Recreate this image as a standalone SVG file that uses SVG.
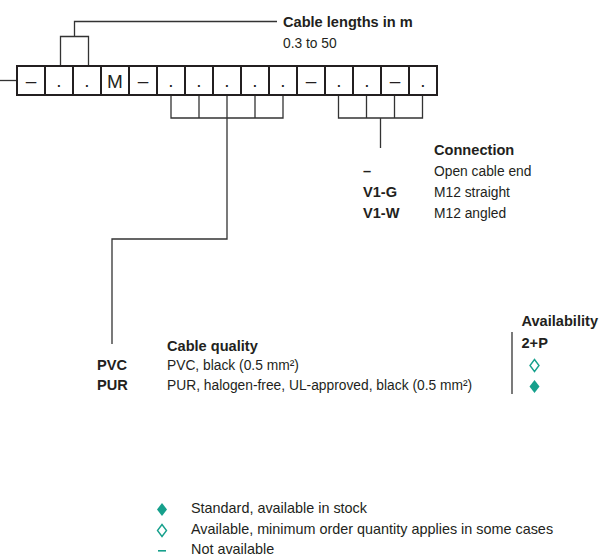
<svg xmlns="http://www.w3.org/2000/svg" width="601" height="560" viewBox="0 0 601 560">
<style>
text{font-family:"Liberation Sans",Arial,sans-serif;fill:#231f20}
.b{font-weight:bold;font-size:14.6px}
.r{font-size:13.8px}
.lg{font-size:14.4px}
.bx{fill:#fff;stroke:#231f20;stroke-width:2}
.bt{font-size:19px;text-anchor:middle}
.c{fill:none;stroke:#333;stroke-width:1.3}
.tf{fill:#16a08c}
.th{fill:none;stroke:#16a08c;stroke-width:1.4}
</style>
<rect width="601" height="560" fill="#fff"/>
<g id="connectors">
<path class="c" d="M0,80.5H17"/>
<path class="c" d="M60.5,66V36.5H88.5V66M74.5,36.5V21.5H277"/>
<path class="c" d="M171,95V118H283V95M199,95V118M227,95V118M255,95V118M227,118V239H112V344"/>
<path class="c" d="M338.5,95V118H422.5V95M366.5,95V118M394.5,95V118M380.5,118V148"/>
<path class="c" d="M512,332V394"/>
</g>
<g id="code">
<rect class="bx" x="17" y="66" width="28" height="29"/>
<rect class="bx" x="45" y="66" width="28" height="29"/>
<rect class="bx" x="73" y="66" width="28" height="29"/>
<rect class="bx" x="101" y="66" width="28" height="29"/>
<rect class="bx" x="129" y="66" width="28" height="29"/>
<rect class="bx" x="157" y="66" width="28" height="29"/>
<rect class="bx" x="185" y="66" width="28" height="29"/>
<rect class="bx" x="213" y="66" width="28" height="29"/>
<rect class="bx" x="241" y="66" width="28" height="29"/>
<rect class="bx" x="269" y="66" width="28" height="29"/>
<rect class="bx" x="297" y="66" width="28" height="29"/>
<rect class="bx" x="325" y="66" width="28" height="29"/>
<rect class="bx" x="353" y="66" width="28" height="29"/>
<rect class="bx" x="381" y="66" width="28" height="29"/>
<rect class="bx" x="409" y="66" width="28" height="29"/>
<text class="bt" x="31" y="87">–</text>
<text class="bt" x="59" y="87">.</text>
<text class="bt" x="87" y="87">.</text>
<text class="bt" x="115" y="87.5">M</text>
<text class="bt" x="143" y="87">–</text>
<text class="bt" x="171" y="87">.</text>
<text class="bt" x="199" y="87">.</text>
<text class="bt" x="227" y="87">.</text>
<text class="bt" x="255" y="87">.</text>
<text class="bt" x="283" y="87">.</text>
<text class="bt" x="311" y="87">–</text>
<text class="bt" x="339" y="87">.</text>
<text class="bt" x="367" y="87">.</text>
<text class="bt" x="395" y="87">–</text>
<text class="bt" x="423" y="87">.</text>
</g>
<g id="cable-lengths">
<text class="b" x="283" y="27">Cable lengths in m</text>
<text class="r" x="283" y="47.5">0.3 to 50</text>
</g>
<g id="connection">
<text class="b" x="434" y="155">Connection</text>
<text class="b" x="363" y="176">–</text>
<text class="r" x="434" y="176">Open cable end</text>
<text class="b" x="363" y="197">V1-G</text>
<text class="r" x="434" y="197">M12 straight</text>
<text class="b" x="363" y="217.5">V1-W</text>
<text class="r" x="434" y="217.5">M12 angled</text>
</g>
<g id="cable-quality">
<text class="b" x="167" y="351">Cable quality</text>
<text class="b" x="97" y="370">PVC</text>
<text class="r" x="167" y="370">PVC, black (0.5 mm²)</text>
<text class="b" x="97" y="390">PUR</text>
<text class="r" x="167" y="390">PUR, halogen-free, UL-approved, black (0.5 mm²)</text>
</g>
<g id="availability">
<text class="b" x="521.5" y="326">Availability</text>
<text class="b" x="521.5" y="348">2+P</text>
<path class="th" d="M534.5,359.5L539,365.5L534.5,371.5L530,365.5Z"/>
<path class="tf" d="M534.5,380L539.5,386.5L534.5,393L529.5,386.5Z"/>
</g>
<g id="legend">
<path class="tf" d="M162,503L167,509.5L162,516L157,509.5Z"/>
<text class="lg" x="191" y="513">Standard, available in stock</text>
<path class="th" d="M162,524.5L166.5,530.5L162,536.5L157.5,530.5Z"/>
<text class="lg" x="191" y="534">Available, minimum order quantity applies in some cases</text>
<rect class="tf" x="158" y="550" width="8" height="1.6"/>
<text class="lg" x="191" y="554">Not available</text>
</g>
</svg>
